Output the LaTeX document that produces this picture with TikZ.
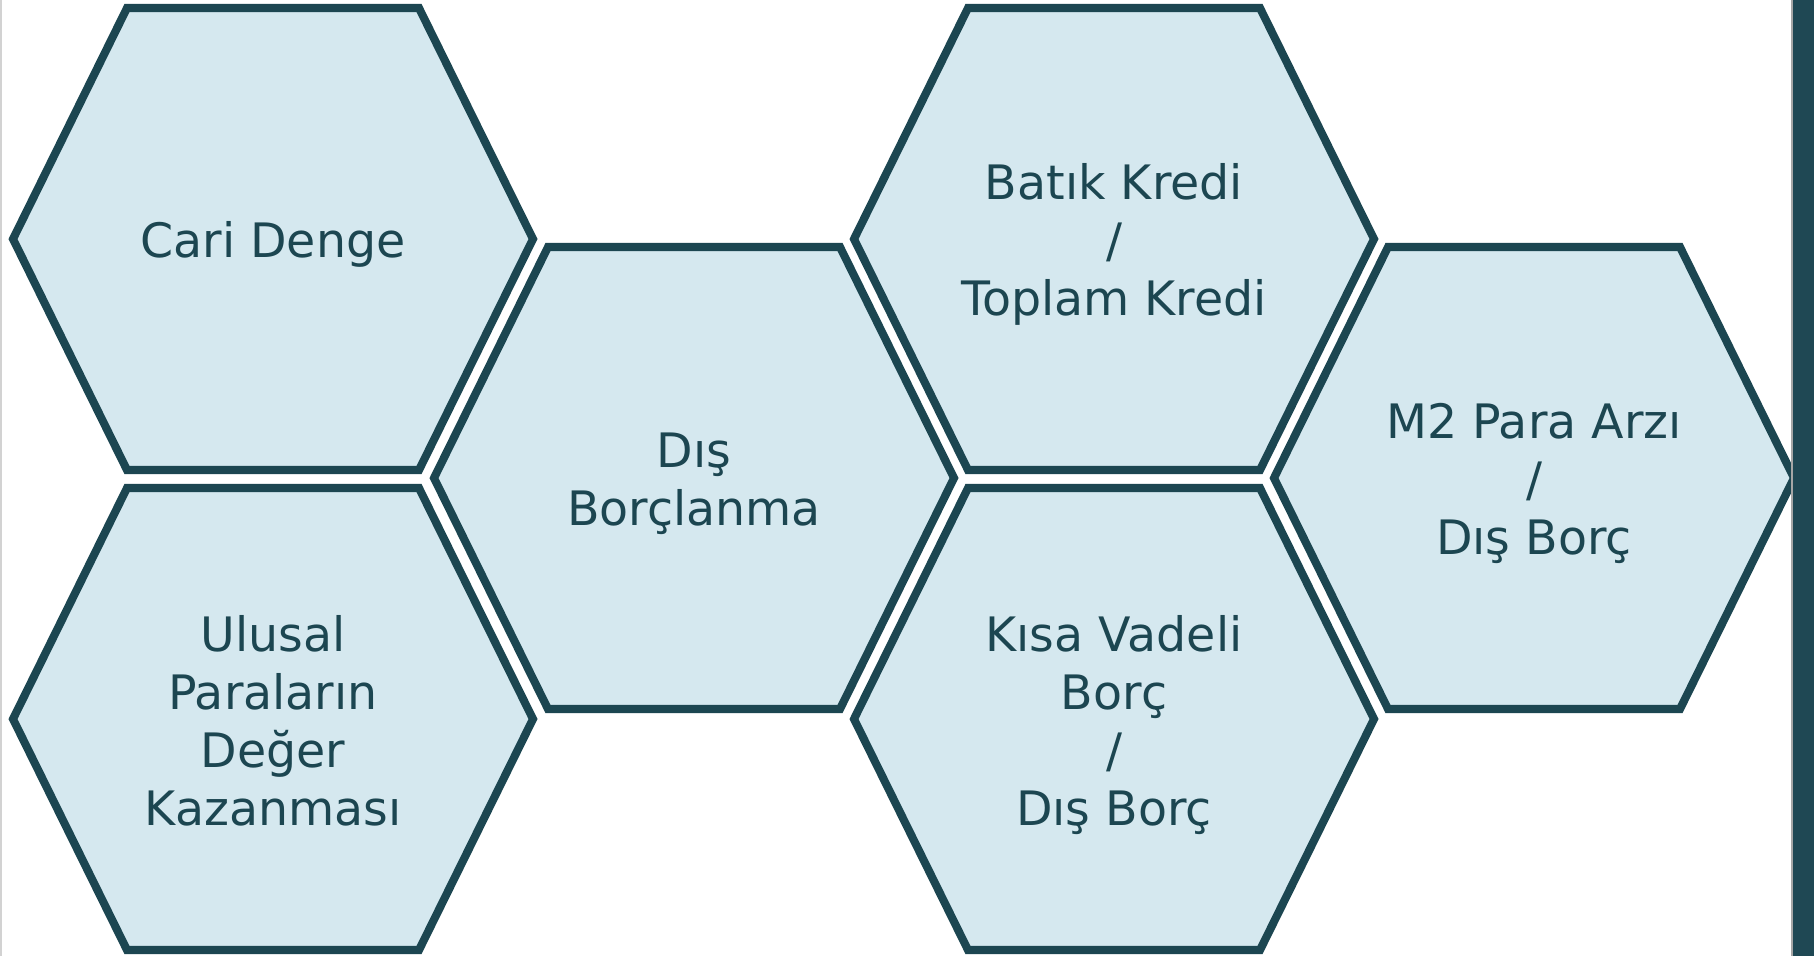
\documentclass[tikz,border=0pt]{standalone}
\usepackage{fontspec}
\setmainfont{DejaVu Sans}
\usetikzlibrary{positioning}
\definecolor{hexEdge}{HTML}{1C4651}
\definecolor{hexFill}{HTML}{D5E8EF}
\definecolor{sideBar}{HTML}{1F4854}

\tikzset{
  hexcell/.style={draw=hexEdge,fill=hexFill,line width=2.3pt,line join=miter},
  hexlabel/.style={text=hexEdge,align=center,inner sep=0pt,yshift=-1.6pt,
    font=\fontsize{13.5}{16.5}\selectfont}
}

\begin{document}
\begin{tikzpicture}[x=0.1mm,y=-0.1mm]
  \useasboundingbox (0,0) rectangle (1814,956);
  \fill[white] (0,0) rectangle (1814,956);
  \draw[gray!35,line width=0.6pt] (1,0) -- (1,956);
  % hexagons, two columns offset by half a cell
  \foreach \cx/\cy/\name/\txt in {
      273/239/cari/{Cari Denge},
      273/719/ulusal/{Ulusal\\Paraların\\Değer\\Kazanması\vphantom{ç}},
      694/478/disborc/{Dış\\Borçlanma},
      1114/239/batik/{Batık Kredi\\/\\Toplam Kredi},
      1114/719/kisa/{Kısa Vadeli\\Borç\\/\\Dış Borç},
      1534/478/mparaarz/{M2 Para Arzı\\/\\Dış Borç}} {
    \draw[hexcell] (\cx,\cy) ++(-260,0) -- ++(114,-231) -- ++(292,0)
      -- ++(114,231) -- ++(-114,231) -- ++(-292,0) -- cycle;
    \node[hexlabel] (\name) at (\cx,\cy) {\txt};
  }
  \draw[gray!70,line width=0.5pt] (1792,0) -- (1792,956);
  \fill[sideBar] (1793,0) rectangle (1814,956);
\end{tikzpicture}
\end{document}
